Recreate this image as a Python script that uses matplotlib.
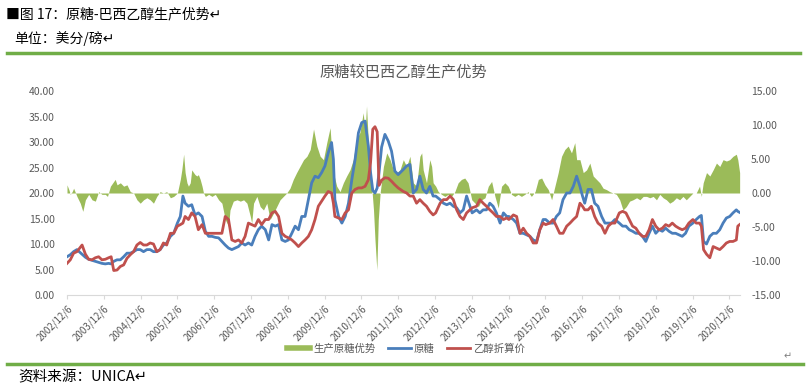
import matplotlib
matplotlib.use("Agg")
import matplotlib.pyplot as plt
from matplotlib.lines import Line2D

plt.rcParams["font.family"] = ["Noto Sans CJK SC", "DejaVu Sans"]

# observation dates (decimal years) for the two price series
price_dates = [
    2002.93, 2003.02, 2003.11, 2003.20, 2003.34, 2003.43, 2003.52, 2003.61, 2003.70, 2003.79,
    2003.88, 2003.97, 2004.06, 2004.13, 2004.20, 2004.29, 2004.38, 2004.47, 2004.56, 2004.65,
    2004.74, 2004.83, 2004.92, 2005.01, 2005.10, 2005.19, 2005.28, 2005.37, 2005.46, 2005.55,
    2005.64, 2005.74, 2005.83, 2005.93, 2006.01, 2006.08, 2006.14, 2006.23, 2006.32, 2006.41,
    2006.50, 2006.60, 2006.69, 2006.78, 2006.87, 2006.96, 2007.05, 2007.14, 2007.23, 2007.32,
    2007.41, 2007.50, 2007.59, 2007.68, 2007.77, 2007.86, 2007.95, 2008.04, 2008.13, 2008.22,
    2008.32, 2008.41, 2008.50, 2008.59, 2008.68, 2008.77, 2008.86, 2008.95, 2009.04, 2009.13,
    2009.22, 2009.31, 2009.40, 2009.49, 2009.58, 2009.67, 2009.76, 2009.85, 2009.94, 2010.03,
    2010.12, 2010.17, 2010.21, 2010.31, 2010.40, 2010.49, 2010.58, 2010.67, 2010.76, 2010.85,
    2010.94, 2011.03, 2011.12, 2011.18, 2011.24, 2011.30, 2011.36, 2011.41, 2011.48, 2011.57,
    2011.66, 2011.75, 2011.84, 2011.93, 2012.07, 2012.16, 2012.25, 2012.34, 2012.43, 2012.52,
    2012.61, 2012.70, 2012.79, 2012.88, 2012.95, 2013.07, 2013.16, 2013.25, 2013.34, 2013.43,
    2013.52, 2013.61, 2013.70, 2013.79, 2013.88, 2013.94, 2014.06, 2014.15, 2014.24, 2014.33,
    2014.42, 2014.51, 2014.60, 2014.70, 2014.79, 2014.88, 2014.94, 2015.06, 2015.15, 2015.24,
    2015.33, 2015.42, 2015.51, 2015.60, 2015.69, 2015.78, 2015.87, 2015.94, 2016.05, 2016.14,
    2016.23, 2016.32, 2016.41, 2016.51, 2016.60, 2016.69, 2016.78, 2016.87, 2016.94, 2017.00,
    2017.09, 2017.18, 2017.27, 2017.36, 2017.46, 2017.55, 2017.64, 2017.73, 2017.82, 2017.94,
    2018.03, 2018.12, 2018.21, 2018.30, 2018.39, 2018.48, 2018.57, 2018.66, 2018.75, 2018.84,
    2018.93, 2019.02, 2019.11, 2019.20, 2019.29, 2019.38, 2019.47, 2019.56, 2019.65, 2019.74,
    2019.83, 2019.94, 2020.03, 2020.12, 2020.17, 2020.23, 2020.31, 2020.40, 2020.49, 2020.58,
    2020.67, 2020.76, 2020.85, 2020.94, 2021.03, 2021.12, 2021.16, 2021.21,
]

# 原糖 (US cents / lb)
raw_sugar = [
    7.5, 7.9, 8.5, 8.9, 8.0, 7.4, 7.0, 6.8, 6.6, 6.4,
    6.2, 6.1, 6.2, 6.1, 6.6, 6.9, 6.9, 7.5, 8.2, 8.2,
    8.5, 8.9, 8.9, 8.5, 8.9, 8.9, 8.5, 8.5, 8.9, 9.8,
    10.2, 11.5, 12.1, 14.1, 15.4, 19.4, 18.0, 17.4, 17.7, 15.7,
    16.1, 15.4, 12.5, 11.5, 11.5, 11.3, 11.2, 10.5, 9.8, 9.2,
    8.9, 9.2, 9.5, 10.2, 9.8, 10.2, 9.8, 11.5, 12.8, 13.5,
    12.8, 10.8, 13.8, 13.5, 13.8, 10.8, 10.5, 10.8, 12.1, 13.5,
    12.8, 15.4, 15.4, 18.7, 22.0, 23.3, 23.0, 24.0, 25.3, 27.9,
    29.9, 26.6, 18.7, 15.4, 14.1, 15.4, 18.0, 22.6, 26.6, 31.8,
    33.8, 34.1, 29.2, 24.0, 20.5, 20.0, 21.0, 24.0, 29.0, 31.5,
    30.2, 28.2, 24.3, 23.6, 24.6, 25.3, 25.6, 20.0, 20.7, 23.3,
    20.7, 20.0, 21.3, 19.4, 19.4, 18.7, 18.0, 17.7, 18.0, 17.4,
    17.1, 16.1, 16.7, 19.4, 17.4, 16.1, 16.7, 16.1, 16.7, 16.7,
    18.0, 17.4, 16.1, 14.1, 16.1, 15.4, 15.4, 14.8, 14.1, 12.1,
    12.1, 11.8, 11.5, 10.8, 10.5, 12.8, 14.8, 14.8, 14.1, 14.1,
    15.4, 16.1, 18.7, 20.0, 20.0, 21.3, 23.3, 21.3, 19.4, 18.0,
    20.7, 20.7, 18.0, 17.4, 15.4, 14.1, 14.1, 14.1, 14.8, 14.1,
    13.5, 13.5, 12.8, 12.5, 12.1, 12.1, 11.5, 10.5, 12.1, 13.5,
    12.1, 12.8, 12.5, 13.1, 12.5, 12.1, 12.1, 11.8, 11.5, 12.1,
    13.5, 14.1, 14.8, 15.4, 15.6, 10.5, 10.0, 11.5, 12.1, 12.1,
    12.8, 14.1, 15.1, 15.4, 16.1, 16.7, 16.4, 16.2,
]

# 乙醇折算价 (US cents / lb)
ethanol_equiv = [
    6.2, 6.9, 8.2, 8.5, 9.8, 8.0, 7.0, 6.9, 7.3, 7.5,
    6.9, 7.0, 7.3, 7.5, 4.8, 4.9, 5.6, 5.9, 7.2, 7.9,
    8.5, 9.8, 10.3, 9.8, 9.8, 10.2, 10.0, 8.5, 8.9, 10.2,
    9.8, 12.1, 12.1, 13.5, 13.8, 14.1, 15.4, 14.8, 16.1, 15.4,
    12.8, 13.8, 12.1, 12.1, 12.1, 12.1, 12.1, 12.1, 15.4, 14.8,
    10.8, 10.5, 10.8, 10.2, 11.5, 14.1, 13.8, 13.5, 14.8, 13.8,
    14.8, 14.8, 16.1, 16.4, 15.4, 12.1, 11.5, 11.2, 10.8, 10.2,
    9.5, 10.2, 10.8, 11.5, 12.8, 14.8, 17.4, 18.4, 19.4, 20.3,
    20.0, 18.0, 15.4, 15.1, 14.8, 16.1, 16.7, 20.0, 20.7, 21.0,
    21.0, 21.3, 22.6, 26.0, 32.5, 33.0, 32.0, 21.5, 22.5, 23.0,
    22.9, 22.3, 21.6, 21.0, 20.3, 20.0, 19.4, 19.4, 18.0, 18.7,
    18.0, 17.4, 16.4, 15.7, 16.1, 18.0, 18.7, 18.7, 19.4, 18.7,
    16.7, 15.4, 14.8, 16.1, 16.7, 17.1, 17.4, 18.7, 18.0, 17.4,
    16.7, 16.1, 15.4, 15.4, 14.8, 15.1, 14.8, 15.7, 15.4, 12.1,
    13.1, 12.1, 11.5, 10.2, 10.2, 12.8, 14.1, 13.8, 14.1, 14.8,
    13.5, 12.1, 12.1, 13.5, 14.1, 14.8, 15.4, 18.0, 17.4, 16.7,
    16.7, 17.4, 15.4, 14.1, 13.5, 12.1, 13.5, 14.1, 14.1, 16.1,
    16.4, 16.1, 14.8, 13.5, 13.1, 12.1, 11.5, 11.5, 12.8, 14.8,
    13.5, 12.8, 13.1, 13.8, 13.5, 14.1, 13.5, 13.1, 12.8, 13.1,
    14.1, 14.8, 14.1, 14.1, 13.5, 8.9, 8.0, 7.3, 9.5, 9.2,
    8.9, 9.5, 10.2, 10.5, 10.5, 10.8, 13.5, 13.8,
]

# 生产原糖优势 (right axis)
advantage_dates = [
    2002.93, 2002.98, 2003.02, 2003.07, 2003.11, 2003.20, 2003.29, 2003.36, 2003.43, 2003.52,
    2003.61, 2003.70, 2003.79, 2003.88, 2003.97, 2004.03, 2004.11, 2004.20, 2004.24, 2004.29,
    2004.38, 2004.47, 2004.56, 2004.65, 2004.74, 2004.83, 2004.92, 2005.01, 2005.10, 2005.19,
    2005.28, 2005.37, 2005.46, 2005.55, 2005.64, 2005.74, 2005.83, 2005.93, 2006.01, 2006.05,
    2006.10, 2006.14, 2006.19, 2006.23, 2006.28, 2006.32, 2006.37, 2006.41, 2006.46, 2006.50,
    2006.55, 2006.60, 2006.64, 2006.69, 2006.78, 2006.87, 2006.96, 2007.05, 2007.14, 2007.23,
    2007.32, 2007.36, 2007.45, 2007.55, 2007.64, 2007.73, 2007.82, 2007.91, 2007.95, 2008.00,
    2008.09, 2008.18, 2008.27, 2008.36, 2008.45, 2008.54, 2008.63, 2008.72, 2008.81, 2008.90,
    2008.99, 2009.08, 2009.17, 2009.26, 2009.36, 2009.45, 2009.54, 2009.63, 2009.72, 2009.81,
    2009.90, 2009.99, 2010.08, 2010.12, 2010.17, 2010.26, 2010.35, 2010.44, 2010.53, 2010.62,
    2010.71, 2010.80, 2010.89, 2010.98, 2011.03, 2011.07, 2011.12, 2011.16, 2011.21, 2011.26,
    2011.30, 2011.35, 2011.39, 2011.44, 2011.53, 2011.62, 2011.71, 2011.80, 2011.89, 2011.98,
    2012.07, 2012.16, 2012.25, 2012.34, 2012.43, 2012.52, 2012.57, 2012.61, 2012.70, 2012.79,
    2012.84, 2012.88, 2012.95, 2013.02, 2013.11, 2013.20, 2013.29, 2013.38, 2013.47, 2013.56,
    2013.65, 2013.74, 2013.83, 2013.93, 2014.02, 2014.11, 2014.20, 2014.29, 2014.38, 2014.47,
    2014.56, 2014.65, 2014.74, 2014.83, 2014.92, 2015.01, 2015.10, 2015.19, 2015.28, 2015.37,
    2015.46, 2015.55, 2015.65, 2015.74, 2015.83, 2015.92, 2016.01, 2016.10, 2016.19, 2016.28,
    2016.37, 2016.46, 2016.55, 2016.64, 2016.73, 2016.78, 2016.87, 2016.96, 2017.05, 2017.14,
    2017.23, 2017.32, 2017.41, 2017.50, 2017.59, 2017.68, 2017.77, 2017.86, 2017.95, 2018.04,
    2018.13, 2018.22, 2018.31, 2018.41, 2018.50, 2018.59, 2018.68, 2018.77, 2018.86, 2018.95,
    2019.04, 2019.13, 2019.22, 2019.31, 2019.40, 2019.49, 2019.58, 2019.67, 2019.76, 2019.85,
    2019.94, 2020.03, 2020.12, 2020.17, 2020.22, 2020.31, 2020.40, 2020.49, 2020.58, 2020.67,
    2020.76, 2020.85, 2020.94, 2021.03, 2021.12, 2021.16, 2021.21,
]
sugar_advantage = [
    1.2, 0.5, -0.2, 0.2, 0.7, -0.5, -1.5, -2.7, -1.0, -0.2,
    -1.0, -1.2, 0.2, -0.2, -0.2, -0.5, 1.0, 1.7, 2.0, 1.2,
    1.5, 1.0, 1.2, 0.2, 0.0, -1.0, -1.5, -1.0, -0.7, -1.0,
    -1.5, -0.5, 0.2, 0.0, 0.2, -0.7, -0.5, 0.0, 2.0, 3.4,
    5.7, 3.0, 1.5, 1.0, 1.5, 3.4, 3.0, 2.7, 2.5, 2.7,
    2.0, 1.0, 0.0, -0.5, -0.2, -0.5, -0.2, -1.0, -1.5, -3.9,
    -4.9, -2.5, -1.2, -1.0, -1.2, -1.0, -1.5, -3.4, -4.4, -1.5,
    -0.5, -2.0, -2.5, -1.5, -3.9, -3.0, -2.0, -1.0, -0.5, 0.0,
    0.7, 2.0, 3.0, 3.9, 4.9, 5.4, 6.4, 9.4, 6.9, 5.4,
    4.9, 7.4, 9.6, 6.4, 3.0, 1.0, 0.2, 1.5, 2.5, 3.4,
    4.9, 7.9, 8.9, 11.8, 8.9, 12.8, 7.4, 4.9, 1.0, -2.5,
    -6.9, -11.3, -3.9, 0.0, 3.9, 5.9, 4.9, 3.4, 3.0, 3.4,
    4.9, 3.9, 5.4, 1.5, 1.0, 5.4, 5.9, 3.4, 1.5, 4.9,
    3.9, 1.5, 1.0, 0.2, -0.2, -0.5, -0.2, -0.5, 0.2, 1.5,
    2.0, 2.2, 1.5, -1.0, -1.5, -2.0, -1.0, -0.7, 1.0, 1.7,
    -0.5, -2.2, 1.0, 1.5, 1.0, -0.2, -0.5, -0.2, -0.5, -0.2,
    0.2, -0.5, 0.2, 2.0, 2.2, 1.2, 0.5, -1.0, 1.0, 3.0,
    5.4, 6.4, 6.9, 5.9, 7.4, 4.9, 4.9, 3.0, 3.4, 4.4,
    2.5, 2.0, 1.5, 0.7, 0.5, 0.2, 0.0, -0.2, -1.0, -2.5,
    -2.0, -1.2, -1.0, -0.7, -1.0, -0.5, -0.5, -0.7, -0.5, -1.0,
    -0.2, -0.7, -1.0, -1.5, -1.2, -0.7, -1.0, -0.5, -1.0, -0.5,
    0.0, 0.0, 1.0, -0.5, 1.5, 3.0, 2.5, 3.4, 4.4, 3.9,
    4.9, 4.7, 4.9, 5.4, 5.7, 4.9, 3.0,
]

year_ticks = list(range(2002, 2021))
left_ticks = [0, 5, 10, 15, 20, 25, 30, 35, 40]
right_ticks = [-15, -10, -5, 0, 5, 10, 15]

GREEN = "#9BBB59"
BLUE = "#4A7EBB"
RED = "#C0504D"
GREY = "#595959"
RULE = "#70AD47"

fig = plt.figure(figsize=(8.06, 3.85), dpi=100)
W, H = 806, 385
ax = fig.add_axes([67 / W, 1 - 295 / H, 673 / W, 204 / H])
ax2 = ax.twinx()
ax.set_zorder(ax2.get_zorder() + 1)
ax.patch.set_visible(False)

ax2.fill_between(advantage_dates, sugar_advantage, 0, color=GREEN, linewidth=0)
ax.plot(price_dates, raw_sugar, color=BLUE, lw=2.0, solid_joinstyle="round")
ax.plot(price_dates, ethanol_equiv, color=RED, lw=2.0, solid_joinstyle="round")

ax.set_xlim(2002.93, 2021.22)
ax.set_ylim(0, 40)
ax2.set_ylim(-15, 15)

ax.set_xticks([y + 0.93 for y in year_ticks])
ax.set_xticklabels([f"{y}/12/6" for y in year_ticks], rotation=45, ha="right", va="top",
                   rotation_mode="anchor", fontsize=7, color=GREY)
ax.tick_params(axis="x", length=3, width=0.8, color="#D9D9D9", pad=3)

ax.set_yticks(left_ticks)
ax.set_yticklabels([f"{v:.2f}" for v in left_ticks], fontsize=7.5, color=GREY)
ax.tick_params(axis="y", length=0, pad=9)
ax2.set_yticks(right_ticks)
ax2.set_yticklabels([f"{v:.2f}" for v in right_ticks], fontsize=7.5, color=GREY)
ax2.tick_params(axis="y", length=0, pad=8)

for a in (ax, ax2):
    for side in ("top", "left", "right"):
        a.spines[side].set_visible(False)
    a.spines["bottom"].set_visible(False)
ax.spines["bottom"].set_visible(True)
ax.spines["bottom"].set_color("#D9D9D9")
ax.spines["bottom"].set_linewidth(0.8)

# chart title inside the excel frame
fig.text(403 / W, 1 - 72 / H, "原糖较巴西乙醇生产优势", ha="center", va="center",
         fontsize=11, color=GREY)

handles = [
    Line2D([], [], color=GREEN, lw=4),
    Line2D([], [], color=BLUE, lw=2.0),
    Line2D([], [], color=RED, lw=2.0),
]
fig.legend(handles, ["生产原糖优势", "原糖", "乙醇折算价"], loc="center",
           bbox_to_anchor=(406 / W, 1 - 349 / H), ncol=3, frameon=False,
           fontsize=7.5, labelcolor=GREY, handlelength=2.2, handletextpad=0.3,
           columnspacing=1.2)

# report header / footer
fig.text(6 / W, 1 - 14 / H, "■图 17：原糖-巴西乙醇生产优势↵", ha="left", va="center",
         fontsize=10, color="black")
fig.text(14 / W, 1 - 39 / H, "单位：美分/磅↵", ha="left", va="center",
         fontsize=10, color="black")
fig.add_artist(Line2D([7 / W, 800 / W], [1 - 52.5 / H, 1 - 52.5 / H], color=RULE, lw=2.5))
fig.add_artist(Line2D([7 / W, 803 / W], [1 - 363.5 / H, 1 - 363.5 / H], color=RULE, lw=2.5))
fig.text(18 / W, 1 - 377 / H, "资料来源：UNICA↵", ha="left", va="center",
         fontsize=10.5, color="black")
fig.text(788 / W, 1 - 356 / H, "↵", ha="center", va="center", fontsize=7, color="#7F7F7F")

fig.savefig("out.png", dpi=100)
